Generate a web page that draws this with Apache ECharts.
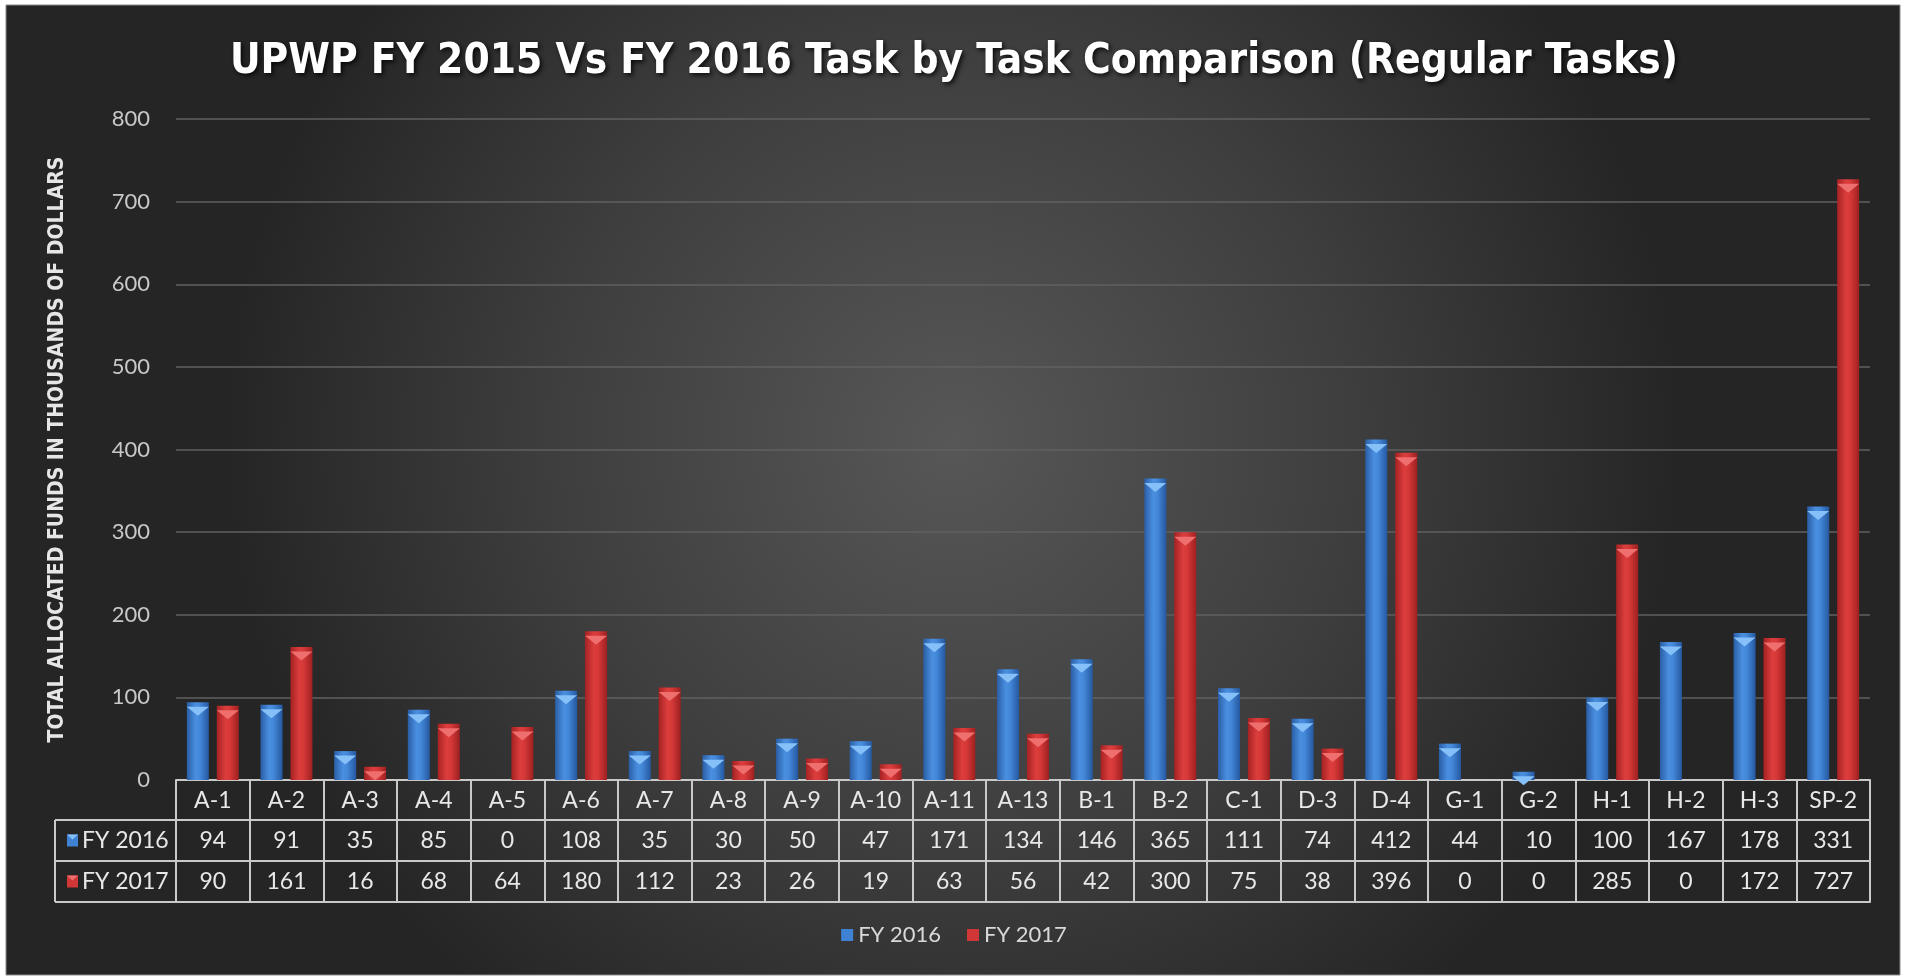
<!DOCTYPE html>
<html>
<head>
<meta charset="utf-8">
<script src="https://cdn.jsdelivr.net/npm/echarts@6/dist/echarts.min.js"></script>
<style>
html,body{margin:0;padding:0;background:#ffffff;}
#c{width:1908px;height:978px;}
</style>
</head>
<body>
<div id="c"></div>
<script>
// ---- data ----
const titleText = 'UPWP FY 2015 Vs FY 2016 Task by Task Comparison (Regular Tasks)';
const yAxisTitle = 'TOTAL ALLOCATED FUNDS IN THOUSANDS OF DOLLARS';
const categories = ['A-1','A-2','A-3','A-4','A-5','A-6','A-7','A-8','A-9','A-10','A-11','A-13','B-1','B-2','C-1','D-3','D-4','G-1','G-2','H-1','H-2','H-3','SP-2'];
const seriesNames = ['FY 2016', 'FY 2017'];
const fy2016 = [94,91,35,85,0,108,35,30,50,47,171,134,146,365,111,74,412,44,10,100,167,178,331];
const fy2017 = [90,161,16,68,64,180,112,23,26,19,63,56,42,300,75,38,396,0,0,285,0,172,727];
const yTicks = [0,100,200,300,400,500,600,700,800];

// ---- layout ----
const gridLeft = 176, gridRight = 38, gridTop = 119, gridBottom = 198;
const axisY = 978 - gridBottom; // 780
const rowH = [40, 41, 41];
const tableLeft = 55;
const lineCol = '#c9c9c9';
const font = 'Lato, "Open Sans", sans-serif';
const titleFont = '"DejaVu Sans Condensed", "Liberation Sans", sans-serif';

const blueGrad = new echarts.graphic.LinearGradient(0,0,1,0,[
  {offset:0,color:'#2a5ea6'},{offset:0.4,color:'#4a8fe0'},{offset:0.6,color:'#4387d8'},{offset:1,color:'#2558a0'}]);
const redGrad = new echarts.graphic.LinearGradient(0,0,1,0,[
  {offset:0,color:'#a52222'},{offset:0.4,color:'#dc3d3d'},{offset:0.6,color:'#d63838'},{offset:1,color:'#9e2020'}]);
const blueCap = '#86c0f8', redCap = '#ef6e6e';

const chart = echarts.init(document.getElementById('c'), null, {renderer:'canvas'});

const r1 = axisY + rowH[0], r2 = r1 + rowH[1], r3 = r2 + rowH[2];

const graphics = [
  { type:'rect', z:-100, silent:true,
    shape:{x:6,y:5,width:1894,height:970},
    style:{ fill: new echarts.graphic.RadialGradient(0.5,0.45,0.75,[
      {offset:0,color:'#575757'},{offset:0.55,color:'#3e3e3e'},{offset:1,color:'#252525'}]),
      stroke:'#8a8a8a', lineWidth:1 } },
  { type:'line', shape:{x1:tableLeft,y1:r1,x2:gridLeft,y2:r1}, style:{stroke:lineCol,lineWidth:2}, z:5 },
  { type:'line', shape:{x1:tableLeft,y1:r2,x2:gridLeft,y2:r2}, style:{stroke:lineCol,lineWidth:2}, z:5 },
  { type:'line', shape:{x1:tableLeft,y1:r3,x2:gridLeft,y2:r3}, style:{stroke:lineCol,lineWidth:2}, z:5 },
  { type:'line', shape:{x1:tableLeft,y1:r1,x2:tableLeft,y2:r3}, style:{stroke:lineCol,lineWidth:2}, z:5 }
];
seriesNames.forEach((n, i) => {
  const cy = (i === 0 ? (r1 + r2) / 2 : (r2 + r3) / 2);
  graphics.push({ type:'rect', shape:{x:tableLeft+12, y:cy-6, width:11, height:12},
    style:{ fill: i === 0 ? '#3f82d4' : '#d23737' }, z:5 });
  graphics.push({ type:'polygon', shape:{points:[[tableLeft+12,cy-6],[tableLeft+23,cy-6],[tableLeft+17.5,cy-1]]},
    style:{ fill: i === 0 ? blueCap : redCap }, z:6 });
  graphics.push({ type:'text', x:tableLeft+27, y:cy, z:5,
    style:{ text:n, fill:'#e8e8e8', font:'23px ' + font, textVerticalAlign:'middle', verticalAlign:'middle' } });
});

const capData = arr => arr.map(v => v === 0 ? null : v);
const cellLabel = { color:'#e8e8e8', fontSize:23, fontFamily:font, margin:9, interval:0 };

const option = {
  animation:false,
  backgroundColor:'#ffffff',
  title:{
    text:titleText, left:'center', top:36,
    textStyle:{ color:'#ffffff', fontSize:42, fontWeight:'bold', fontFamily:titleFont,
      textShadowColor:'rgba(0,0,0,0.85)', textShadowBlur:5, textShadowOffsetX:2, textShadowOffsetY:2 }
  },
  legend:{
    data:seriesNames.map((n,i)=>({name:n, itemStyle:{color: i===0 ? '#3f82d4' : '#d23737'}})),
    bottom:27, left:'center', itemWidth:12, itemHeight:12, itemGap:26,
    icon:'path://M0,0L12,0L12,12L0,12Z',
    textStyle:{ color:'#d9d9d9', fontSize:22, fontFamily:font }
  },
  grid:{ left:gridLeft, right:gridRight, top:gridTop, bottom:gridBottom, containLabel:false },
  xAxis:[
    { type:'category', data:categories, position:'bottom', offset:0,
      axisLine:{ show:true, lineStyle:{ color:lineCol, width:2 } },
      axisTick:{ show:true, length:rowH[0]+rowH[1]+rowH[2], interval:0, lineStyle:{ color:lineCol, width:2 } },
      axisLabel:cellLabel },
    { type:'category', data:categories, position:'bottom', offset:rowH[0],
      axisLine:{ show:true, lineStyle:{ color:lineCol, width:2 } },
      axisTick:{ show:false },
      axisLabel:Object.assign({}, cellLabel, { formatter:(v, i) => String(fy2016[i]) }) },
    { type:'category', data:categories, position:'bottom', offset:rowH[0]+rowH[1],
      axisLine:{ show:true, lineStyle:{ color:lineCol, width:2 } },
      axisTick:{ show:false },
      axisLabel:Object.assign({}, cellLabel, { formatter:(v, i) => String(fy2017[i]) }) },
    { type:'category', data:categories, position:'bottom', offset:rowH[0]+rowH[1]+rowH[2],
      axisLine:{ show:true, lineStyle:{ color:lineCol, width:2 } },
      axisTick:{ show:false }, axisLabel:{ show:false } }
  ],
  yAxis:{
    type:'value', min:yTicks[0], max:yTicks[yTicks.length-1], interval:100,
    name:yAxisTitle, nameLocation:'middle', nameGap:108, nameRotate:90,
    nameTextStyle:{ color:'#e6e6e6', fontSize:21, fontWeight:'bold', fontFamily:titleFont },
    axisLine:{ show:false }, axisTick:{ show:false },
    axisLabel:{ color:'#c8c8c8', fontSize:22, fontFamily:font, margin:26 },
    splitLine:{ lineStyle:{ color:'#606060', width:1.5 } }
  },
  series:[
    { name:seriesNames[0], type:'bar', xAxisIndex:0, data:fy2016, barWidth:22, barGap:'36%',
      itemStyle:{ color:blueGrad }, z:2 },
    { name:seriesNames[1], type:'bar', xAxisIndex:0, data:fy2017, barWidth:22, barGap:'36%',
      itemStyle:{ color:redGrad }, z:2 },
    { name:seriesNames[0]+' cap', type:'pictorialBar', xAxisIndex:0, data:capData(fy2016),
      symbol:'triangle', symbolRotate:180, symbolSize:[22,9], symbolPosition:'end',
      symbolOffset:[-15, 4.5], itemStyle:{ color:blueCap }, z:3, legendHoverLink:false },
    { name:seriesNames[1]+' cap', type:'pictorialBar', xAxisIndex:0, data:capData(fy2017),
      symbol:'triangle', symbolRotate:180, symbolSize:[22,9], symbolPosition:'end',
      symbolOffset:[15, 4.5], itemStyle:{ color:redCap }, z:3, legendHoverLink:false }
  ],
  graphic:graphics
};
chart.setOption(option);
</script>
</body>
</html>
